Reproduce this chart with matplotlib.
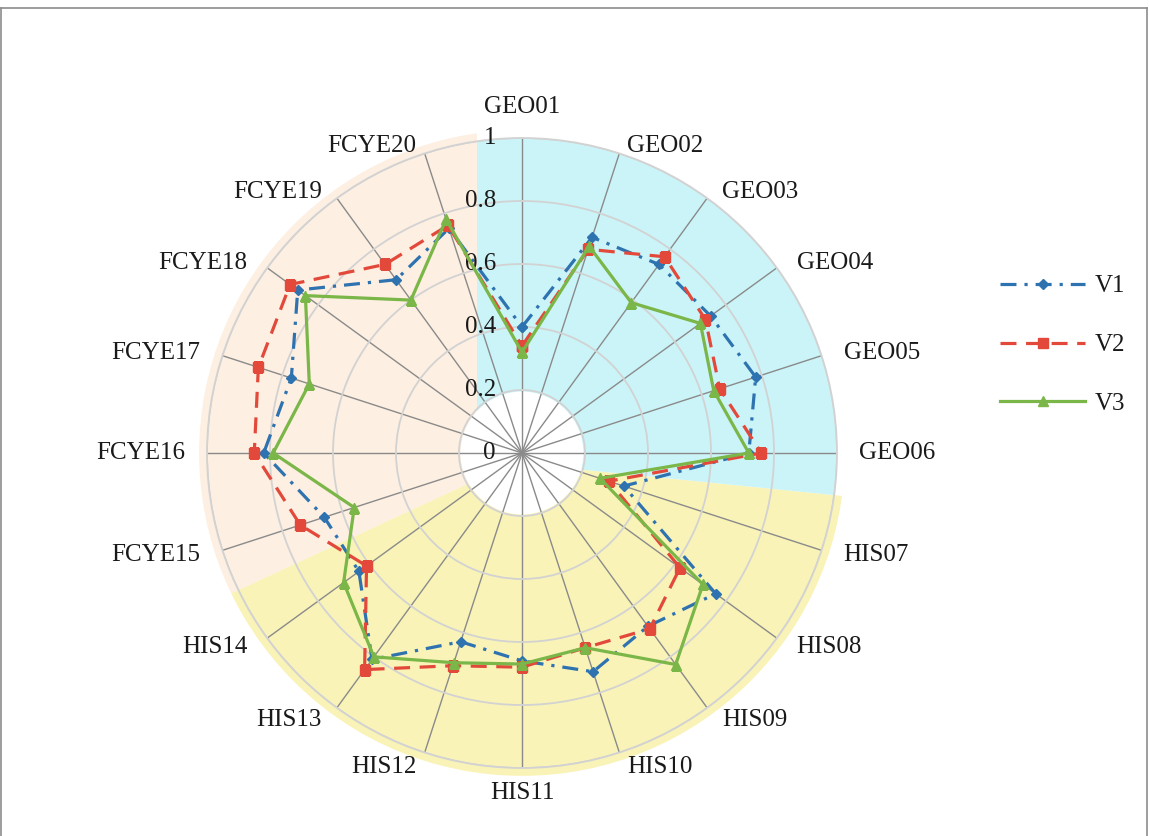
import numpy as np
import matplotlib
matplotlib.use('Agg')
import matplotlib.pyplot as plt
from matplotlib.patches import Polygon, Circle
from matplotlib.transforms import Affine2D, offset_copy
from matplotlib.lines import Line2D

# ---------------- data ----------------
categories = ['GEO01', 'GEO02', 'GEO03', 'GEO04', 'GEO05', 'GEO06',
              'HIS07', 'HIS08', 'HIS09', 'HIS10', 'HIS11', 'HIS12', 'HIS13', 'HIS14',
              'FCYE15', 'FCYE16', 'FCYE17', 'FCYE18', 'FCYE19', 'FCYE20']
v1 = [0.40, 0.72, 0.74, 0.74, 0.78, 0.72, 0.34, 0.76, 0.68, 0.73,
      0.66, 0.63, 0.81, 0.64, 0.66, 0.82, 0.77, 0.88, 0.68, 0.75]
v2 = [0.34, 0.68, 0.77, 0.72, 0.66, 0.76, 0.29, 0.62, 0.69, 0.65,
      0.68, 0.71, 0.85, 0.61, 0.74, 0.85, 0.88, 0.91, 0.74, 0.76]
v3 = [0.32, 0.69, 0.59, 0.70, 0.64, 0.72, 0.26, 0.71, 0.83, 0.65,
      0.67, 0.70, 0.80, 0.70, 0.56, 0.79, 0.71, 0.85, 0.60, 0.78]
series_names = ['V1', 'V2', 'V3']
r_ticks = [0, 0.2, 0.4, 0.6, 0.8, 1.0]
r_tick_labels = ['0', '0.2', '0.4', '0.6', '0.8', '1']

# ---------------- style ----------------
plt.rcParams['font.family'] = ['Liberation Serif', 'DejaVu Serif']
colors = ['#2E72B0', '#E2493B', '#7AB648']
bg_cyan, bg_peach, bg_yellow = '#cbf4f8', '#fdefe1', '#f9f3b8'
text_color = '#1a1a1a'

W, H = 1149, 836
fig = plt.figure(figsize=(W / 100, H / 100), dpi=100)
cx, cy, R = 522, 453, 315
ax = fig.add_axes([(cx - R) / W, (H - cy - R) / H, 2 * R / W, 2 * R / H],
                  projection='polar')
ax.set_theta_zero_location('N')
ax.set_theta_direction(-1)
ax.set_ylim(0, 1)
ax.set_facecolor('white')

n = len(categories)
theta = np.arange(n) * 2 * np.pi / n
ax.set_xticks(theta)
ax.set_xticklabels([])
ax.set_yticks(r_ticks[1:])
ax.set_yticklabels([])
ax.tick_params(length=0)
ax.set_axisbelow(True)
ax.xaxis.grid(True, color='#8a8a8a', lw=1.0)
ax.yaxis.grid(True, color='#d2d2d2', lw=1.3)
ax.spines['polar'].set_color('#d2d2d2')
ax.spines['polar'].set_linewidth(1.3)

# ---------------- background bands (unit-circle coordinates) ----------------
unit = Affine2D().scale(0.5).translate(0.5, 0.5) + ax.transAxes
cyan_poly = [(-0.143, -0.019), (-0.143, 1.3), (1.3, 1.3), (1.3, -0.165)]
peach_poly = [(-1.3, -0.62), (-0.143, -0.085), (-0.143, 1.3), (-1.3, 1.3)]
yellow_poly = [(-1.3, -0.62), (-0.143, -0.085), (-0.143, -0.019),
               (1.3, -0.165), (1.3, -1.3), (-1.3, -1.3)]
for pts, col, rclip in [(peach_poly, bg_peach, 1.025), (yellow_poly, bg_yellow, 1.025),
                        (cyan_poly, bg_cyan, 1.0)]:
    p = Polygon(pts, closed=True, transform=unit, facecolor=col,
                edgecolor='none', zorder=0.1)
    p.set_clip_path(Circle((0, 0), rclip, transform=unit))
    ax.add_artist(p)
ax.add_artist(Circle((0, 0), 0.195, transform=unit, facecolor='white',
                     edgecolor='none', zorder=0.15))

# ---------------- series ----------------
th = np.append(theta, theta[0])
styles = [dict(dashes=(5, 2.5, 1, 2.5), marker='D', ms=5.5),
          dict(dashes=(5, 3), marker='s', ms=6.5),
          dict(linestyle='-', marker='^', ms=6.5)]
handles = []
for k, (vals, name) in enumerate(zip([v1, v2, v3], series_names)):
    vv = np.append(vals, vals[0])
    ln, = ax.plot(th, vv, color=colors[k], lw=2.3, label=name,
                  markerfacecolor=colors[k], markeredgecolor=colors[k],
                  zorder=3 + 0.1 * k, **styles[k])
    handles.append(ln)

# ---------------- radial tick labels ----------------
rt_trans = offset_copy(ax.transData, fig=fig, x=-26, y=0, units='dots')
for r, lab in zip(r_ticks, r_tick_labels):
    ax.text(0, r, lab, transform=rt_trans, ha='right', va='center',
            fontsize=18, color=text_color)

# ---------------- category labels ----------------
for i, lab in enumerate(categories):
    a = theta[i]
    s, c = np.sin(a), np.cos(a)
    if abs(s) < 0.15:
        ha = 'center'
        va = 'bottom' if c > 0 else 'top'
        dx, dy = 0, (20 if c > 0 else -14)
    else:
        ha = 'left' if s > 0 else 'right'
        va = 'center'
        dx = 22 * s + (4 if s > 0 else -4) * abs(s * c)
        dy = 8 * c if c > 0 else 15 * c
    tr = offset_copy(ax.transData, fig=fig, x=dx, y=dy, units='dots')
    ax.text(a, 1.0, lab, transform=tr, ha=ha, va=va, fontsize=18,
            color=text_color, clip_on=False)

# ---------------- legend ----------------
fig.legend(handles=handles, labels=series_names, loc='center left',
           bbox_to_anchor=(1000 / W, 1 - 345 / H), frameon=False,
           fontsize=18, handlelength=3.4, labelspacing=1.45,
           handletextpad=0.4, borderpad=0, borderaxespad=0, numpoints=1,
           labelcolor=text_color)

# ---------------- outer border ----------------
bc = '#8c8c8c'
fig.add_artist(Line2D([1 / W, 1 / W], [0, 1 - 8 / H], color=bc, lw=1.2,
                      transform=fig.transFigure))
fig.add_artist(Line2D([1 / W, 1 - 2 / W], [1 - 8 / H, 1 - 8 / H], color=bc, lw=1.2,
                      transform=fig.transFigure))
fig.add_artist(Line2D([1 - 2 / W, 1 - 2 / W], [0, 1 - 8 / H], color=bc, lw=1.2,
                      transform=fig.transFigure))

fig.savefig('out.png', dpi=100)
